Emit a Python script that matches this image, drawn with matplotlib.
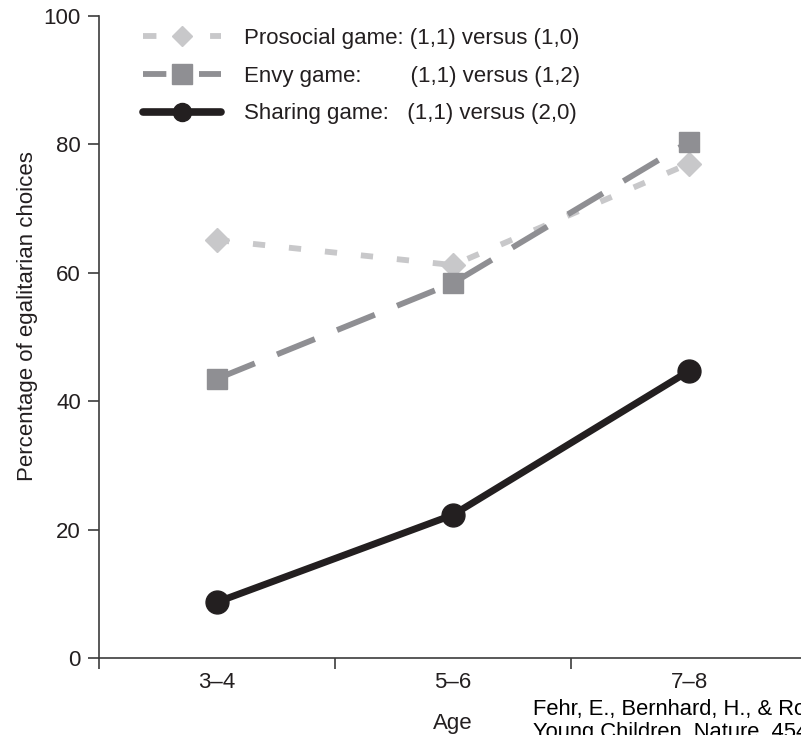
import matplotlib
matplotlib.use("Agg")
from matplotlib import pyplot as plt
from matplotlib.lines import Line2D

plt.rcParams['font.family'] = ['Liberation Sans', 'DejaVu Sans']

ages = ["3–4", "5–6", "7–8"]
prosocial = [65.1, 61.2, 77.0]
envy = [43.5, 58.4, 80.4]
sharing = [8.7, 22.3, 44.7]

labels = ["Prosocial game: (1,1) versus (1,0)",
          "Envy game:        (1,1) versus (1,2)",
          "Sharing game:   (1,1) versus (2,0)"]

c_pro = "#c8c8ca"
c_envy = "#8f8f93"
c_share = "#231f20"
c_text = "#231f20"

fig = plt.figure(figsize=(8.01, 7.35), dpi=100)
ax = fig.add_axes([99 / 801, 77 / 735, 708 / 801, 642 / 735])

x = range(len(ages))
ax.plot(x, prosocial, color=c_pro, lw=4.2, dashes=(2.1, 4.1), marker="D",
        ms=12, mec=c_pro, zorder=2)
ax.plot(x, envy, color=c_envy, lw=4.2, dashes=(7.0, 4.1), marker="s",
        ms=14.5, mec=c_envy, zorder=3)
ax.plot(x, sharing, color=c_share, lw=5, marker="o", ms=16.5, mec=c_share,
        solid_capstyle="round", zorder=4)

ax.set_xlim(-0.5, 2.5)
ax.set_ylim(0, 100)
ax.set_yticks([0, 20, 40, 60, 80, 100])
ax.set_xticks([-0.5, 0.5, 1.5])
ax.set_xticklabels([])
ax.set_xticks(list(x), minor=True)
ax.set_xticklabels(ages, minor=True)
ax.tick_params(axis="x", which="minor", length=0, labelsize=16, pad=10, labelcolor=c_text)
ax.tick_params(axis="x", which="major", length=8, width=1.2, color="#3c3c3c")
ax.tick_params(axis="y", length=8, width=1.2, color="#3c3c3c", labelsize=16, pad=5,
               labelcolor=c_text)
ax.spines["top"].set_visible(False)
ax.spines["right"].set_visible(False)
for s in ["left", "bottom"]:
    ax.spines[s].set_linewidth(1.2)
    ax.spines[s].set_color("#3c3c3c")

ax.set_ylabel("Percentage of egalitarian choices", fontsize=16, color=c_text)
ax.yaxis.set_label_coords((38 - 99) / 708, (658 - 316) / 642)
ax.set_xlabel("Age", fontsize=16, color=c_text)
ax.xaxis.set_label_coords(0.5, (658 - 713) / 642)

# legend handles drawn a bit differently from the data lines
handles = [
    Line2D([], [], color=c_pro, lw=4.2, dashes=(2.3, 9.2), marker="D", ms=10.5, mec=c_pro),
    Line2D([], [], color=c_envy, lw=4.2, dashes=(4.0, 5.6), marker="s", ms=14.5, mec=c_envy),
    Line2D([], [], color=c_share, lw=5.5, marker="o", ms=13, mec=c_share,
           solid_capstyle="round"),
]
ax.legend(handles, labels, loc="upper left", bbox_to_anchor=((143 - 99) / 708, (658 - 28) / 642),
          frameon=False, fontsize=16, handlelength=3.5, handletextpad=1.05, labelspacing=0.75,
          borderpad=0, borderaxespad=0, numpoints=1, labelcolor=c_text)

fig.text(533 / 801, 1 - 699 / 735,
         "Fehr, E., Bernhard, H., & Rockenbach, B. (2008). Egalitarianism in\n"
         "Young Children. Nature, 454, 1079–1083.",
         fontsize=15.8, va="top", ha="left", linespacing=1.15, color="black")

fig.savefig("out.png", dpi=100)
